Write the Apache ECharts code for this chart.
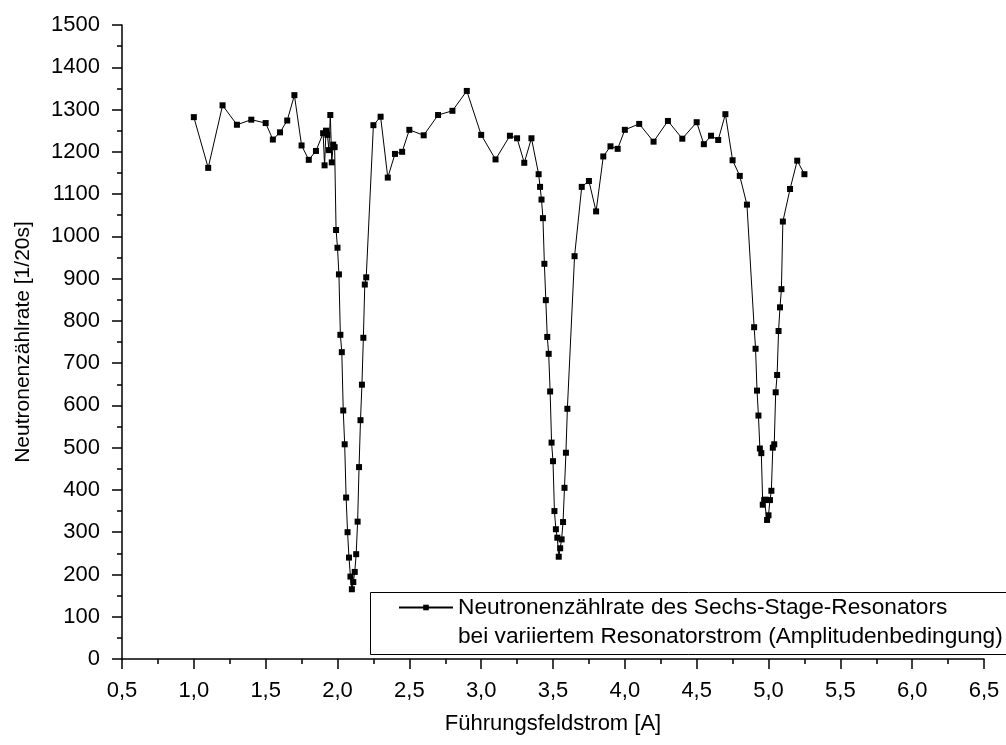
<!DOCTYPE html>
<html>
<head>
<meta charset="utf-8">
<script src="https://cdn.jsdelivr.net/npm/echarts@6/dist/echarts.min.js"></script>
<style>
  html, body { margin: 0; padding: 0; background: #fff; }
  #chart { width: 1006px; height: 745px; }
</style>
</head>
<body>
<div id="chart"></div>
<script>
// Guide field current [A] for each measurement
const currents = [
  1.00, 1.10, 1.20, 1.30, 1.40, 1.50, 1.55, 1.60, 1.65, 1.70, 1.75, 1.80, 1.85,
  1.90, 1.91, 1.92, 1.93, 1.94, 1.95, 1.96, 1.97, 1.98,
  1.99, 2.00, 2.01, 2.02, 2.03, 2.04, 2.05, 2.06, 2.07, 2.08, 2.09,
  2.10, 2.11, 2.12, 2.13, 2.14, 2.15, 2.16, 2.17, 2.18, 2.19, 2.20,
  2.25, 2.30, 2.35, 2.40, 2.45, 2.50, 2.60, 2.70, 2.80, 2.90, 3.00,
  3.10, 3.20, 3.25, 3.30, 3.35,
  3.40, 3.41, 3.42, 3.43, 3.44, 3.45, 3.46, 3.47, 3.48, 3.49, 3.50,
  3.51, 3.52, 3.53, 3.54, 3.55, 3.56, 3.57, 3.58, 3.59, 3.60,
  3.65, 3.70, 3.75, 3.80, 3.85, 3.90, 3.95, 4.00, 4.10, 4.20, 4.30,
  4.40, 4.50, 4.55, 4.60, 4.65, 4.70, 4.75, 4.80, 4.85,
  4.90, 4.91, 4.92, 4.93, 4.94, 4.95, 4.96, 4.97, 4.98, 4.99, 5.00,
  5.01, 5.02, 5.03, 5.04, 5.05, 5.06, 5.07, 5.08, 5.09, 5.10,
  5.15, 5.20, 5.25
];

// Neutron count rate [1/20s]
const rates = [
  1282, 1162, 1310, 1264, 1276, 1268, 1229, 1246, 1274, 1334, 1215, 1181, 1202,
  1244, 1168, 1250, 1240, 1204, 1287, 1175, 1217, 1211,
  1015, 973, 910, 767, 726, 588, 508, 382, 300, 240, 195,
  165, 182, 206, 248, 325, 454, 565, 649, 760, 886, 903,
  1263, 1283, 1139, 1195, 1200, 1252, 1239, 1287, 1297, 1344, 1240,
  1182, 1238, 1232, 1174, 1232,
  1147, 1117, 1087, 1043, 935, 849, 762, 722, 633, 512, 468,
  350, 307, 287, 242, 262, 283, 324, 405, 488, 592,
  953, 1117, 1131, 1059, 1189, 1213, 1207, 1252, 1266, 1224, 1273,
  1231, 1270, 1218, 1238, 1228, 1289, 1180, 1143, 1075,
  785, 734, 635, 576, 498, 487, 365, 376, 377, 329, 340,
  376, 398, 500, 508, 631, 672, 776, 832, 875, 1035,
  1112, 1179, 1147
];

const seriesName = 'Neutronenzählrate des Sechs-Stage-Resonators\nbei variiertem Resonatorstrom (Amplitudenbedingung)';
const xAxisName = 'Führungsfeldstrom [A]';
const yAxisName = 'Neutronenzählrate [1/20s]';

const FONT = '"Liberation Sans", Arial, Helvetica, sans-serif';
const points = currents.map((c, i) => [c, rates[i]]);

const chart = echarts.init(document.getElementById('chart'), null, { renderer: 'canvas' });

const axisCommon = {
  axisLine: { show: true, onZero: false, lineStyle: { color: '#000', width: 1.5 } },
  axisTick: { show: true, inside: false, length: 10, lineStyle: { color: '#000', width: 1.5 } },
  minorTick: { show: true, splitNumber: 2, length: 5, lineStyle: { color: '#000', width: 1.5 } },
  splitLine: { show: false },
  minorSplitLine: { show: false }
};

chart.setOption({
  animation: false,
  backgroundColor: '#fff',
  textStyle: { fontFamily: FONT },
  grid: { left: 122, right: 22, top: 25, bottom: 86, containLabel: false },
  xAxis: Object.assign({
    type: 'value',
    min: 0.5, max: 6.5, interval: 0.5,
    name: xAxisName,
    nameLocation: 'middle',
    nameGap: 54,
    nameTextStyle: { fontSize: 22, color: '#000', fontFamily: FONT },
    axisLabel: {
      margin: 21, fontSize: 22, color: '#000', fontFamily: FONT,
      formatter: v => v.toFixed(1).replace('.', ',')
    }
  }, axisCommon),
  yAxis: Object.assign({
    type: 'value',
    min: 0, max: 1500, interval: 100,
    name: yAxisName,
    nameLocation: 'middle',
    nameGap: 88,
    nameRotate: 90,
    nameTextStyle: { fontSize: 21, color: '#000', fontFamily: FONT },
    axisLabel: {
      margin: 22, fontSize: 22, color: '#000', fontFamily: FONT,
      formatter: v => String(v)
    }
  }, axisCommon),
  legend: {
    show: true,
    left: 398,
    top: 564,
    padding: 0,
    itemWidth: 54,
    itemHeight: 7,
    selectedMode: false,
    data: [seriesName],
    // leading blank line keeps the icon beside the first text line
    formatter: name => ' \n' + name,
    textStyle: { fontSize: 22.7, color: '#000', fontFamily: FONT, lineHeight: 29 }
  },
  graphic: [{
    type: 'rect',
    left: 368,
    top: 590,
    shape: { width: 660, height: 62 },
    style: { fill: 'none', stroke: '#000', lineWidth: 1 },
    silent: true
  }],
  series: [{
    name: seriesName,
    type: 'line',
    data: points,
    symbol: 'rect',
    symbolSize: 6,
    showAllSymbol: true,
    lineStyle: { color: '#000', width: 1 },
    itemStyle: { color: '#000' },
    emphasis: { disabled: true }
  }]
});
</script>
</body>
</html>
